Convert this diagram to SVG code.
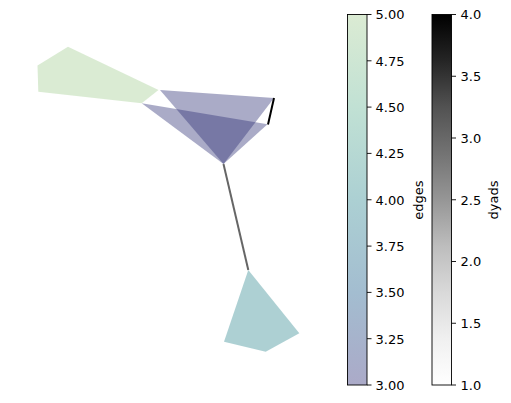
<svg xmlns="http://www.w3.org/2000/svg" width="511" height="403" viewBox="0 0 511 403">
<style>
.edge{fill-opacity:0.4;stroke:none}
.dyad{stroke-width:2;stroke-linecap:butt;fill:none}
.cbframe{fill:none;stroke:#000;stroke-width:0.9}
.tick{stroke:#000;stroke-width:0.9}
.tl{font-family:"DejaVu Sans",sans-serif;font-size:13px;fill:#000}
.lab{font-family:"DejaVu Sans",sans-serif;font-size:13px;fill:#000;text-anchor:middle}
</style>
<defs>
<linearGradient id="gEdges" x1="0" y1="0" x2="0" y2="1">
<stop offset="0" stop-color="#dbebd3"/>
<stop offset="0.25" stop-color="#c1e1d4"/>
<stop offset="0.5" stop-color="#acd0d3"/>
<stop offset="0.75" stop-color="#a3bdd0"/>
<stop offset="0.9" stop-color="#a7b1cb"/>
<stop offset="1" stop-color="#abaac8"/>
</linearGradient>
<linearGradient id="gDyads" x1="0" y1="0" x2="0" y2="1">
<stop offset="0" stop-color="#000000"/>
<stop offset="0.125" stop-color="#252525"/>
<stop offset="0.25" stop-color="#525252"/>
<stop offset="0.375" stop-color="#737373"/>
<stop offset="0.5" stop-color="#969696"/>
<stop offset="0.625" stop-color="#bdbdbd"/>
<stop offset="0.75" stop-color="#d9d9d9"/>
<stop offset="0.875" stop-color="#f0f0f0"/>
<stop offset="1" stop-color="#ffffff"/>
</linearGradient>
</defs>
<rect width="511" height="403" fill="#fff"/>
<g id="edge-5">
<polygon class="edge" fill="#a3cd90" points="37.5,65.5 68,46.8 158.5,90 141.7,103.3 38.3,91.8"/>
</g>
<g id="edge-4">
<polygon class="edge" fill="#328990" points="248.3,270 299.3,333.3 265.7,351.7 224,341.7"/>
</g>
<g id="edge-3a">
<polygon class="edge" fill="#2b2c74" points="160,90 274,98 223.5,164"/>
</g>
<g id="edge-3b">
<polygon class="edge" fill="#2b2c74" points="141.7,103.3 267.5,124.3 223.5,164"/>
</g>
<g id="connectors">
<line class="dyad" stroke="#000000" x1="274" y1="98" x2="268" y2="124.5"/>
<line class="dyad" stroke="#666666" x1="223.5" y1="164" x2="248.3" y2="270"/>
</g>
<g id="colorbar-edges">
<rect x="347.5" y="14.5" width="19.5" height="370.5" fill="url(#gEdges)"/>
<rect class="cbframe" x="347.5" y="14.5" width="19.5" height="370.5"/>
<g class="tick">
<line x1="367" y1="385" x2="371.5" y2="385"/>
<line x1="367" y1="338.7" x2="371.5" y2="338.7"/>
<line x1="367" y1="292.4" x2="371.5" y2="292.4"/>
<line x1="367" y1="246.1" x2="371.5" y2="246.1"/>
<line x1="367" y1="199.75" x2="371.5" y2="199.75"/>
<line x1="367" y1="153.4" x2="371.5" y2="153.4"/>
<line x1="367" y1="107.1" x2="371.5" y2="107.1"/>
<line x1="367" y1="60.8" x2="371.5" y2="60.8"/>
<line x1="367" y1="14.5" x2="371.5" y2="14.5"/>
</g>
<text class="tl" x="375.5" y="389.8">3.00</text>
<text class="tl" x="375.5" y="343.5">3.25</text>
<text class="tl" x="375.5" y="297.2">3.50</text>
<text class="tl" x="375.5" y="250.9">3.75</text>
<text class="tl" x="375.5" y="204.5">4.00</text>
<text class="tl" x="375.5" y="158.2">4.25</text>
<text class="tl" x="375.5" y="111.9">4.50</text>
<text class="tl" x="375.5" y="65.6">4.75</text>
<text class="tl" x="375.5" y="19.3">5.00</text>
<text class="lab" x="423" y="200" transform="rotate(-90 423 200)">edges</text>
</g>
<g id="colorbar-dyads">
<rect x="432" y="14.5" width="19.5" height="370.5" fill="url(#gDyads)"/>
<rect class="cbframe" x="432" y="14.5" width="19.5" height="370.5"/>
<g class="tick">
<line x1="451.5" y1="385" x2="456" y2="385"/>
<line x1="451.5" y1="323.25" x2="456" y2="323.25"/>
<line x1="451.5" y1="261.5" x2="456" y2="261.5"/>
<line x1="451.5" y1="199.75" x2="456" y2="199.75"/>
<line x1="451.5" y1="138" x2="456" y2="138"/>
<line x1="451.5" y1="76.25" x2="456" y2="76.25"/>
<line x1="451.5" y1="14.5" x2="456" y2="14.5"/>
</g>
<text class="tl" x="460.5" y="389.8">1.0</text>
<text class="tl" x="460.5" y="328">1.5</text>
<text class="tl" x="460.5" y="266.3">2.0</text>
<text class="tl" x="460.5" y="204.5">2.5</text>
<text class="tl" x="460.5" y="142.8">3.0</text>
<text class="tl" x="460.5" y="81">3.5</text>
<text class="tl" x="460.5" y="19.3">4.0</text>
<text class="lab" x="498" y="200" transform="rotate(-90 498 200)">dyads</text>
</g>
</svg>
